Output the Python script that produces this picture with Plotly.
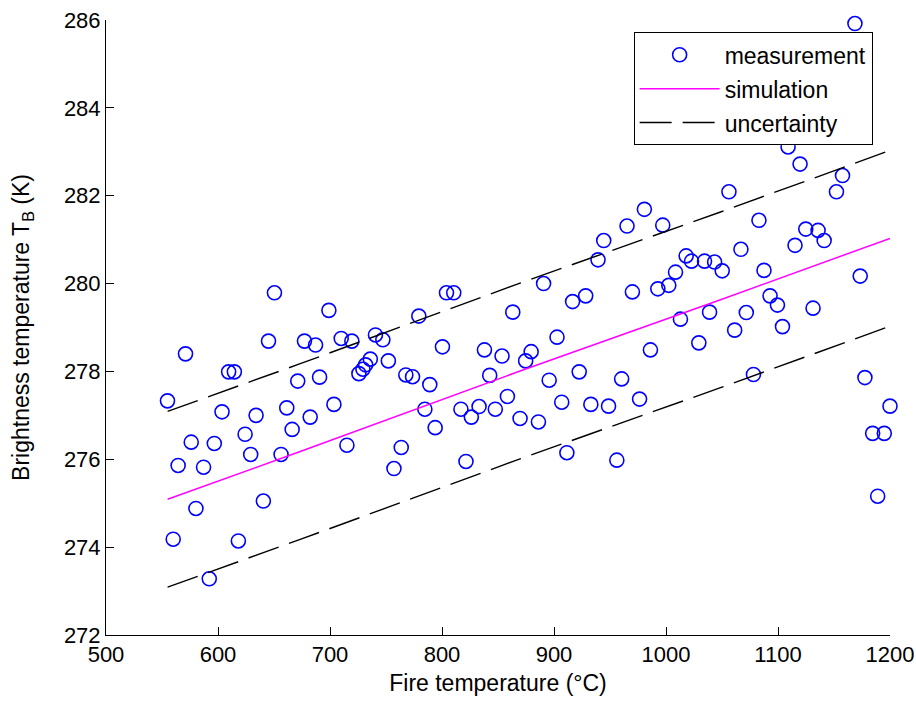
import plotly.graph_objects as go

# Measured points (fire temperature °C, brightness temperature K)
meas_x = [650.4, 645.1, 677.2, 687.1, 571.0, 609.5, 614.6, 671.2, 690.7, 554.9,
          603.6, 634.0, 661.4, 682.3, 666.2, 624.2, 576.1, 596.7, 629.2, 656.3,
          564.4, 587.1, 580.3, 640.5, 560.0, 618.2, 592.2,
          699.0, 804.0, 810.5, 779.3, 863.2, 710.0, 719.5, 740.6, 747.2, 800.4,
          837.9, 853.6, 736.0, 731.8, 729.4, 725.8, 752.1, 767.7, 773.7, 789.1,
          842.6, 703.5, 784.7, 816.9, 833.1, 826.2, 847.6, 858.4, 793.9, 715.1,
          763.6, 757.1, 821.4,
          980.7, 965.2, 997.1, 944.4, 939.3, 1018.0, 1022.8, 1034.4, 1043.4, 1008.5,
          1002.5, 992.7, 970.0, 928.3, 916.6, 890.7, 1012.9, 1038.9, 902.7, 986.1,
          1029.3, 879.6, 874.7, 922.5, 895.7, 960.4, 906.9, 932.9, 948.7, 976.4,
          869.7, 886.1, 911.5, 956.1,
          1168.7, 1109.0, 1119.7, 1157.6, 1152.2, 1056.2, 1083.0, 1124.8, 1135.8, 1141.2,
          1115.2, 1066.9, 1050.2, 1087.5, 1173.4, 1092.9, 1099.5, 1071.7, 1131.3, 1061.3,
          1104.0, 1078.1, 1177.6, 1200.0, 1184.5, 1194.9, 1189.0]
meas_y = [279.79, 278.69, 278.69, 278.60, 278.40, 277.99, 277.99, 277.78, 277.87, 277.33,
          277.08, 277.00, 277.17, 276.96, 276.68, 276.57, 276.39, 276.36, 276.11, 276.11,
          275.86, 275.82, 274.88, 275.05, 274.18, 274.14, 273.28,
          279.39, 279.79, 279.79, 279.26, 279.35, 278.75, 278.69, 278.83, 278.72, 278.56,
          278.49, 278.35, 278.28, 278.15, 278.05, 277.95, 278.24, 277.92, 277.88, 277.70,
          277.91, 277.25, 277.14, 277.14, 277.20, 276.96, 277.14, 277.43, 276.72, 276.32,
          276.27, 275.79, 275.95,
          281.69, 281.31, 281.33, 280.98, 280.54, 280.63, 280.51, 280.51, 280.49, 280.26,
          279.96, 279.88, 279.81, 279.72, 279.59, 280.00, 279.19, 279.35, 278.78, 278.49,
          278.65, 278.45, 278.24, 277.99, 277.80, 277.83, 277.30, 277.25, 277.21, 277.37,
          276.93, 276.85, 276.15, 275.98,
          285.92, 283.11, 282.72, 282.46, 282.09, 282.09, 281.44, 281.24, 281.21, 280.98,
          280.87, 280.78, 280.29, 280.30, 280.17, 279.72, 279.51, 279.34, 279.44, 278.94,
          279.02, 277.93, 277.86, 277.21, 276.59, 276.59, 275.16]

# Simulation curve
sim_x = [555.0, 672.8, 869.7, 1048.7, 1200.0]
sim_y = [275.09, 276.17, 278.01, 279.63, 281.03]
UNC = 2.0  # uncertainty band half-width (K)
upper_y = [v + UNC for v in sim_y]
lower_y = [v - UNC for v in sim_y]

x_ticks = [500, 600, 700, 800, 900, 1000, 1100, 1200]
y_ticks = [272, 274, 276, 278, 280, 282, 284, 286]

FONT = "Liberation Sans, Arial, sans-serif"
FS = 22

fig = go.Figure()
fig.add_trace(go.Scatter(
    x=meas_x, y=meas_y, mode="markers", name="measurement",
    marker=dict(symbol="circle-open", size=14, color="#0000ff",
                line=dict(width=1.6, color="#0000ff")),
    cliponaxis=False, legendgroup="a"))
fig.add_trace(go.Scatter(
    x=sim_x, y=sim_y, mode="lines", name="simulation",
    line=dict(color="#ff00ff", width=1.5), legendgroup="b"))
fig.add_trace(go.Scatter(
    x=sim_x, y=upper_y, mode="lines", name="uncertainty",
    line=dict(color="black", width=1.4, dash="32px,11px"), legendgroup="c"))
fig.add_trace(go.Scatter(
    x=sim_x, y=lower_y, mode="lines", name="uncertainty", showlegend=False,
    line=dict(color="black", width=1.4, dash="32px,11px"), legendgroup="c"))

fig.update_layout(
    width=916, height=704,
    margin=dict(l=106, r=26, t=20, b=69),
    paper_bgcolor="white", plot_bgcolor="white",
    font=dict(family=FONT, size=FS, color="black"),
    legend=dict(x=0.673, y=0.98, xanchor="left", yanchor="top",
                bordercolor="black", borderwidth=1, bgcolor="white",
                font=dict(size=23), traceorder="grouped", tracegroupgap=1,
                itemwidth=80, entrywidth=155),
    xaxis=dict(range=[500, 1200], tickvals=x_ticks, ticks="inside", ticklen=8,
               tickcolor="black", showline=True, linecolor="black", linewidth=1,
               showgrid=False, zeroline=False, mirror=False, automargin=False,
               tickfont=dict(size=FS),
               title=dict(text="Fire temperature (°C)", standoff=8,
                          font=dict(size=23))),
    yaxis=dict(range=[272, 286], tickvals=y_ticks, ticks="inside", ticklen=8,
               tickcolor="black", showline=True, linecolor="black", linewidth=1,
               showgrid=False, zeroline=False, mirror=False, automargin=False,
               tickfont=dict(size=FS),
               title=dict(text="Brightness temperature T<sub>B</sub> (K)", standoff=27,
                          font=dict(size=23))),
)

fig.write_html("out.html")
